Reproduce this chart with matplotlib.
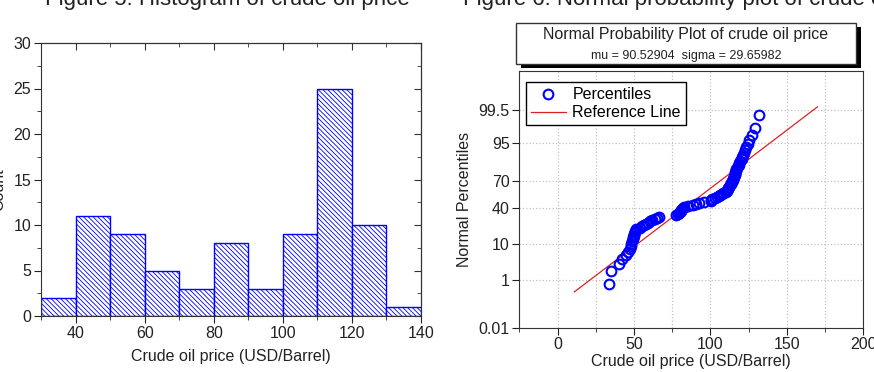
import math
from statistics import NormalDist

import numpy as np
import matplotlib
matplotlib.use("Agg")
import matplotlib.pyplot as plt
from matplotlib.patches import Rectangle
from matplotlib.ticker import MultipleLocator, FixedLocator, NullLocator

# ================================
# DATA
# ================================
# crude oil prices (USD/Barrel), sorted
prices = [
    33.5, 35.0,
    40.2, 42.4, 44.6, 46.1, 47.2, 47.8, 48.3, 48.8, 49.2, 49.5, 49.8,
    50.1, 50.4, 50.8, 51.3, 53.7, 55.2, 56.5, 57.8, 59.2,
    60.3, 62.0, 63.6, 65.0, 66.6,
    77.8, 78.5, 79.3,
    80.2, 80.5, 80.9, 81.3, 81.8, 82.5, 85.5, 88.5,
    90.5, 92.5, 95.5,
    100.2, 100.5, 101.0, 103.0, 104.5, 105.5, 106.5, 107.3, 108.5,
    110.3, 110.6, 110.9, 111.3, 111.8, 112.3, 112.8, 113.3, 113.7, 114.0,
    114.3, 114.6, 114.9, 115.2, 115.5, 115.8, 116.1, 116.4, 116.7, 117.0,
    117.4, 117.9, 118.4, 118.9, 119.5,
    120.4, 120.9, 121.5, 122.1, 122.8, 123.6, 124.5, 125.5, 127.0, 129.2,
    132.0,
]
hist_bins = [30, 40, 50, 60, 70, 80, 90, 100, 110, 120, 130, 140]

mu = 90.52904
sigma = 29.65982
ref_line_x = [11, 170]

pct_ticks = [0.01, 1, 10, 40, 70, 95, 99.5]
pct_labels = ["0.01", "1", "10", "40", "70", "95", "99.5"]

# ================================
# STYLE
# ================================
plt.rcParams["font.family"] = ["Liberation Sans", "DejaVu Sans"]
plt.rcParams["hatch.linewidth"] = 0.6
W, H = 874, 372
BLUE = "#0000ff"
TXT = "#222222"

def box(x0, y0, x1, y1):
    # pixel box (top-left origin) -> figure fraction rect
    return [x0 / W, 1 - y1 / H, (x1 - x0) / W, (y1 - y0) / H]

fig = plt.figure(figsize=(W / 100, H / 100), dpi=100)

# ================================
# FIGURE 5: HISTOGRAM
# ================================
ax1 = fig.add_axes(box(41, 43, 421, 316))
ax1.hist(prices, bins=hist_bins, facecolor="white", edgecolor=BLUE,
         hatch="\\" * 7, linewidth=1.0)
ax1.set_xlim(30, 140)
ax1.set_ylim(0, 30)
ax1.xaxis.set_major_locator(MultipleLocator(20))
ax1.xaxis.set_minor_locator(MultipleLocator(10))
ax1.yaxis.set_major_locator(MultipleLocator(5))
ax1.yaxis.set_minor_locator(MultipleLocator(2.5))
ax1.tick_params(which="both", direction="out", labelsize=11.5, colors=TXT, pad=2)
ax1.tick_params(which="major", length=5)
ax1.tick_params(which="minor", length=3)
ax1.set_xlabel("Crude oil price (USD/Barrel)", fontsize=11.5, color=TXT, labelpad=6)
for s in ax1.spines.values():
    s.set_color("#333333")

top = ax1.secondary_xaxis("top")
top.xaxis.set_major_locator(MultipleLocator(20))
top.xaxis.set_minor_locator(MultipleLocator(10))
top.tick_params(which="both", direction="in", labeltop=False, colors="#333333")
top.tick_params(which="major", length=5)
top.tick_params(which="minor", length=3)
right = ax1.secondary_yaxis("right")
right.yaxis.set_major_locator(MultipleLocator(5))
right.yaxis.set_minor_locator(MultipleLocator(2.5))
right.tick_params(which="both", direction="in", labelright=False, colors="#333333")
right.tick_params(which="major", length=5)
right.tick_params(which="minor", length=3)

fig.text(-1 / W, 1 - 190 / H, "Count", rotation=90, ha="center", va="center",
         fontsize=11.5, color=TXT)
fig.text(227 / W, 1 - 4.5 / H, "Figure 5: Histogram of crude oil price",
         ha="center", va="baseline", fontsize=16, color=TXT)

# ================================
# FIGURE 6: NORMAL PROBABILITY PLOT
# ================================
nd = NormalDist()
to_z = np.vectorize(nd.inv_cdf, otypes=[float])
erf = np.vectorize(math.erf, otypes=[float])

def fwd(p):
    p = np.clip(np.asarray(p, dtype=float) / 100.0, 1e-12, 1 - 1e-12)
    return to_z(p)

def inv(z):
    return 50.0 * (1 + erf(np.asarray(z, dtype=float) / math.sqrt(2)))

n = len(prices)
percentiles = (np.arange(1, n + 1) - 0.375) / (n + 0.25) * 100   # Blom positions
ref_y = [float(inv((x - mu) / sigma)) for x in ref_line_x]

ax2 = fig.add_axes(box(519.3, 71, 863.3, 327.7))
ax2.set_yscale("function", functions=(fwd, inv))
ax2.plot(prices, percentiles, "o", ms=7, mfc="none", mec=BLUE, mew=1.5,
         label="Percentiles", zorder=3)
ax2.plot(ref_line_x, ref_y, color="#e02020", lw=0.9, label="Reference Line", zorder=2)
ax2.set_xlim(-25, 200)
ax2.set_ylim(0.01, 99.99)
ax2.xaxis.set_major_locator(MultipleLocator(50))
ax2.xaxis.set_minor_locator(MultipleLocator(25))
ax2.yaxis.set_major_locator(FixedLocator(pct_ticks))
ax2.yaxis.set_minor_locator(NullLocator())
ax2.set_yticklabels(pct_labels)
ax2.tick_params(which="both", direction="out", labelsize=11.5, colors=TXT, pad=2)
ax2.tick_params(which="major", length=5)
ax2.tick_params(which="minor", length=3)
ax2.grid(True, which="both", axis="x", ls=":", color="#c0c0c0", lw=0.9)
ax2.grid(True, which="major", axis="y", ls=":", color="#c0c0c0", lw=0.9)
for s in ax2.spines.values():
    s.set_color("#333333")
ax2.set_xlabel("Crude oil price (USD/Barrel)", fontsize=11.5, color=TXT, labelpad=1)
ax2.set_ylabel("Normal Percentiles", fontsize=11.5, color=TXT, labelpad=5)

leg = ax2.legend(loc="upper left", bbox_to_anchor=(6.7 / 344, 1 - 11.3 / 256.7),
                 borderaxespad=0, fancybox=False, framealpha=1, edgecolor="black",
                 fontsize=11.5, handlelength=2.2, handletextpad=0.4,
                 labelspacing=0.2, borderpad=0.3)
leg.get_frame().set_linewidth(1.0)

# title box with shadow
fig.add_artist(Rectangle((521 / W, 1 - 68 / H), (856 - 516) / W, (64 - 23) / H,
                         transform=fig.transFigure, facecolor="black",
                         edgecolor="black", lw=0))
fig.add_artist(Rectangle((516 / W, 1 - 64 / H), (856 - 516) / W, (64 - 23) / H,
                         transform=fig.transFigure, facecolor="white",
                         edgecolor="#333333", lw=1.0))
fig.text(686 / W, 1 - 35 / H, "Normal Probability Plot of crude oil price",
         ha="center", va="center", fontsize=11.5, color=TXT)
fig.text(686 / W, 1 - 56 / H, "mu = 90.52904  sigma = 29.65982",
         ha="center", va="center", fontsize=9, color=TXT)
fig.text(463 / W, 1 - 4.5 / H, "Figure 6: Normal probability plot of crude oil price",
         ha="left", va="baseline", fontsize=16, color=TXT)

fig.savefig("out.png", dpi=100)
